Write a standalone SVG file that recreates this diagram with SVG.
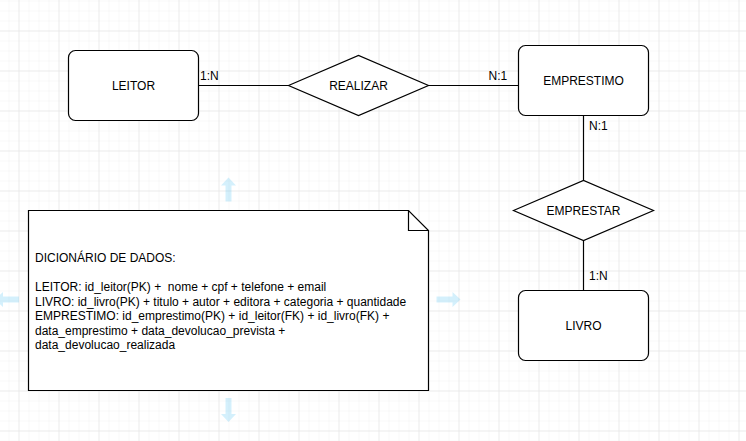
<svg xmlns="http://www.w3.org/2000/svg" width="746" height="441" viewBox="0 0 746 441">
<defs>
<pattern id="minor" x="8.5" y="0.5" width="10" height="10" patternUnits="userSpaceOnUse">
<path d="M0 0H10M0 0V10" fill="none" stroke="#f1f1f1" stroke-width="1"/>
</pattern>
<pattern id="major" x="18.5" y="30.5" width="40" height="40" patternUnits="userSpaceOnUse">
<path d="M0 0H40M0 0V40" fill="none" stroke="#e2e2e2" stroke-width="1"/>
</pattern>
<path id="arrowUp" d="M0 -12 L7.5 -4 L3 -4 L3 12 L-3 12 L-3 -4 L-7.5 -4 Z"/>
</defs>
<style>
.shape{fill:#ffffff;stroke:#000000;stroke-width:1.2}
.edge{fill:none;stroke:#000000;stroke-width:1.2}
.lbl{font-family:"Liberation Sans",Arial,sans-serif;font-size:12px;fill:#000000}
.ctr{text-anchor:middle}
.hint{fill:#29b6f2;opacity:0.2}
</style>
<rect width="746" height="441" fill="#ffffff"/>
<rect width="746" height="441" fill="url(#minor)"/>
<rect width="746" height="441" fill="url(#major)"/>

<g id="hints">
<use href="#arrowUp" class="hint" transform="translate(228.5,189.5)"/>
<use href="#arrowUp" class="hint" transform="translate(228.5,410) rotate(180)"/>
<use href="#arrowUp" class="hint" transform="translate(7,299.5) rotate(-90)"/>
<use href="#arrowUp" class="hint" transform="translate(448.5,299.5) rotate(90)"/>
</g>

<g id="connectors">
<line class="edge" x1="198.5" y1="85.5" x2="288.5" y2="85.5"/>
<line class="edge" x1="428.5" y1="85.5" x2="518.5" y2="85.5"/>
<line class="edge" x1="583.5" y1="115.5" x2="583.5" y2="180.5"/>
<line class="edge" x1="583.5" y1="240.5" x2="583.5" y2="290.5"/>
<text class="lbl" x="200" y="80">1:N</text>
<text class="lbl" x="488.5" y="80">N:1</text>
<text class="lbl" x="589" y="130">N:1</text>
<text class="lbl" x="589" y="280">1:N</text>
</g>

<g id="leitor">
<rect class="shape" x="68.5" y="50.5" width="130" height="70" rx="7"/>
<text class="lbl ctr" x="133.5" y="90">LEITOR</text>
</g>

<g id="realizar">
<polygon class="shape" points="288.5,85.5 358.5,55.5 428.5,85.5 358.5,115.5"/>
<text class="lbl ctr" x="358.5" y="90">REALIZAR</text>
</g>

<g id="emprestimo">
<rect class="shape" x="518.5" y="45.5" width="130" height="70" rx="7"/>
<text class="lbl ctr" x="583.5" y="85">EMPRESTIMO</text>
</g>

<g id="emprestar">
<polygon class="shape" points="513.5,210.5 583.5,180.5 653.5,210.5 583.5,240.5"/>
<text class="lbl ctr" x="583.5" y="215">EMPRESTAR</text>
</g>

<g id="livro">
<rect class="shape" x="518.5" y="290.5" width="130" height="70" rx="7"/>
<text class="lbl ctr" x="583.5" y="330">LIVRO</text>
</g>

<g id="dicionario">
<path class="shape" d="M28.5 210.5 H408.5 L428.5 230.5 V390.5 H28.5 Z"/>
<path class="edge" d="M408.5 210.5 V230.5 H428.5"/>
<text class="lbl" x="35" y="262">DICIONÁRIO DE DADOS:</text>
<text class="lbl" x="35" y="291" xml:space="preserve">LEITOR: id_leitor(PK) +  nome + cpf + telefone + email</text>
<text class="lbl" x="35" y="305.5">LIVRO: id_livro(PK) + titulo + autor + editora + categoria + quantidade</text>
<text class="lbl" x="35" y="320">EMPRESTIMO: id_emprestimo(PK) + id_leitor(FK) + id_livro(FK) +</text>
<text class="lbl" x="35" y="334.5">data_emprestimo + data_devolucao_prevista +</text>
<text class="lbl" x="35" y="349">data_devolucao_realizada</text>
</g>
</svg>
